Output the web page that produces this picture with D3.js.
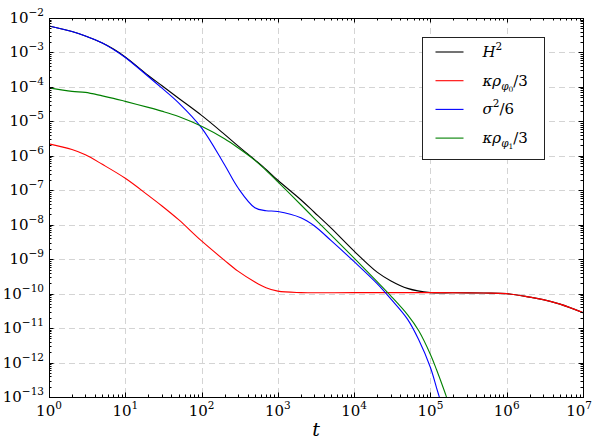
<!DOCTYPE html>
<html>
<head>
<meta charset="utf-8">
<script src="https://cdn.jsdelivr.net/npm/d3@7"></script>
<style>
  body { margin: 0; background: #fff; }
</style>
</head>
<body>
<div id="chart"></div>
<script>
// values
var tH2 = [1, 2, 3, 5, 7, 10, 20, 30, 50, 100, 200, 300, 500, 700, 1e3, 2e3, 3e3, 5e3, 1e4, 2e4, 3e4, 5e4, 1e5, 2e5, 5e5, 1e6, 2e6, 3e6, 5e6, 1e7];
var H2 = [5.86e-3, 4.06e-3, 3.01e-3, 1.88e-3, 1.26e-3, 7.41e-4, 2.15e-4, 1.10e-4, 4.70e-5, 1.49e-5, 4.20e-6, 1.95e-6, 7.66e-7, 4.06e-7, 1.95e-7, 5.31e-8, 2.30e-8, 7.92e-9, 1.71e-9, 4.20e-10, 2.38e-10, 1.42e-10, 1.07e-10, 1.06e-10, 1.04e-10, 1.0e-10, 7.92e-11, 6.70e-11, 4.96e-11, 2.81e-11];

var tRho0 = [1, 2, 3, 5, 10, 20, 30, 50, 100, 200, 300, 500, 700, 1e3, 2e3, 1e4, 1e5, 5e5, 1e6, 2e6, 3e6, 5e6, 1e7];
var rho0 = [2.23e-6, 1.52e-6, 1.07e-6, 5.67e-7, 2.23e-7, 7.11e-8, 3.56e-8, 1.40e-8, 3.38e-9, 9.23e-10, 4.49e-10, 2.18e-10, 1.49e-10, 1.18e-10, 1.07e-10, 1.07e-10, 1.07e-10, 1.04e-10, 1.0e-10, 7.92e-11, 6.70e-11, 4.96e-11, 2.81e-11];

var tSigma = [1, 2, 3, 5, 7, 10, 20, 30, 50, 100, 200, 300, 500, 700, 1e3, 2e3, 3e3, 5e3, 1e4, 2e4, 3e4, 5e4, 7e4, 1e5, 1.2e5, 1.4e5];
var sigma = [5.86e-3, 4.06e-3, 3.01e-3, 1.88e-3, 1.22e-3, 7.16e-4, 2.01e-4, 9.35e-5, 3.44e-5, 6.48e-6, 5.48e-7, 1.18e-7, 3.11e-8, 2.55e-8, 2.43e-8, 1.60e-8, 9.35e-9, 3.44e-9, 8.47e-10, 1.95e-10, 7.16e-11, 1.82e-11, 4.65e-12, 7.16e-13, 1.88e-13, 6.07e-14];

var tRho1 = [1, 2, 3, 5, 7, 10, 20, 30, 50, 100, 200, 300, 500, 700, 1e3, 2e3, 3e3, 5e3, 1e4, 2e4, 3e4, 5e4, 7e4, 1e5, 1.2e5, 1.5e5, 1.7e5];
var rho1 = [9.35e-5, 7.41e-5, 6.93e-5, 5.48e-5, 4.64e-5, 3.80e-5, 2.55e-5, 1.98e-5, 1.38e-5, 7.16e-6, 3.11e-6, 1.71e-6, 7.41e-7, 3.80e-7, 1.76e-7, 3.80e-8, 1.54e-8, 4.97e-9, 1.07e-9, 2.23e-10, 8.75e-11, 2.46e-11, 8.47e-12, 1.71e-12, 6.27e-13, 1.65e-13, 7.41e-14];

var xExps = [0, 1, 2, 3, 4, 5, 6, 7];
var yExps = [-13, -12, -11, -10, -9, -8, -7, -6, -5, -4, -3, -2];

var series = [
  { t: tH2, v: H2, color: '#000000' },
  { t: tRho0, v: rho0, color: '#ff0000' },
  { t: tSigma, v: sigma, color: '#0000ff' },
  { t: tRho1, v: rho1, color: '#008000' }
];

var serif = 'DejaVu Serif, serif';

var width = 593, height = 439;
var margin = { left: 49, right: 10, top: 18, bottom: 42 };
var pw = width - margin.left - margin.right;
var ph = height - margin.top - margin.bottom;

var x = d3.scaleLog().domain([1, 1e7]).range([0, pw]);
var y = d3.scaleLog().domain([1e-13, 1e-2]).range([ph, 0]);

var svg = d3.select('#chart')
  .append('svg')
  .attr('width', width)
  .attr('height', height);

svg.append('defs').append('clipPath')
  .attr('id', 'clip')
  .append('rect')
  .attr('width', pw)
  .attr('height', ph);

var g = svg.append('g')
  .attr('transform', 'translate(' + margin.left + ',' + margin.top + ')');

// dashed grid at every decade
g.selectAll('.gx')
  .data(xExps)
  .enter().append('line')
  .attr('x1', function (d) { return Math.round(x(Math.pow(10, d))) + 0.5; })
  .attr('x2', function (d) { return Math.round(x(Math.pow(10, d))) + 0.5; })
  .attr('y1', 0)
  .attr('y2', ph)
  .attr('stroke', '#d4d4d4')
  .attr('stroke-dasharray', '6,4');

g.selectAll('.gy')
  .data(yExps)
  .enter().append('line')
  .attr('y1', function (d) { return Math.round(y(Math.pow(10, d))) + 0.5; })
  .attr('y2', function (d) { return Math.round(y(Math.pow(10, d))) + 0.5; })
  .attr('x1', 0)
  .attr('x2', pw)
  .attr('stroke', '#d4d4d4')
  .attr('stroke-dasharray', '6,4');

var line = d3.line()
  .x(function (d) { return x(d[0]); })
  .y(function (d) { return y(d[1]); })
  .curve(d3.curveCatmullRom.alpha(0.5));

var lines = g.append('g').attr('clip-path', 'url(#clip)');
series.forEach(function (s) {
  lines.append('path')
    .datum(d3.zip(s.t, s.v))
    .attr('d', line)
    .attr('fill', 'none')
    .attr('stroke', s.color)
    .attr('stroke-width', 1.1);
});

// ticks inside on all four sides
function logTicks(lo, hi) {
  var out = [];
  for (var e = lo; e < hi; e++) {
    for (var m = 1; m < 10; m++) out.push({ v: m * Math.pow(10, e), major: m === 1 });
  }
  out.push({ v: Math.pow(10, hi), major: true });
  return out;
}
var xt = logTicks(0, 7), yt = logTicks(-13, -2);

var ticks = g.append('g').attr('stroke', '#000').attr('stroke-width', 1);
xt.forEach(function (d) {
  var px = Math.round(x(d.v)) + 0.5, len = d.major ? 4.5 : 2.5;
  ticks.append('line').attr('x1', px).attr('x2', px).attr('y1', ph).attr('y2', ph - len);
  ticks.append('line').attr('x1', px).attr('x2', px).attr('y1', 0).attr('y2', len);
});
yt.forEach(function (d) {
  var py = Math.round(y(d.v)) + 0.5, len = d.major ? 4.5 : 2.5;
  ticks.append('line').attr('y1', py).attr('y2', py).attr('x1', 0).attr('x2', len);
  ticks.append('line').attr('y1', py).attr('y2', py).attr('x1', pw).attr('x2', pw - len);
});

g.append('rect')
  .attr('x', 0.5)
  .attr('y', 0.5)
  .attr('width', pw)
  .attr('height', ph)
  .attr('fill', 'none')
  .attr('stroke', '#000')
  .attr('stroke-width', 1);

// tick labels 10^n
g.selectAll('.xl')
  .data(xExps)
  .enter().append('text')
  .attr('text-anchor', 'middle')
  .attr('font-family', serif)
  .attr('x', function (d) { return x(Math.pow(10, d)); })
  .attr('y', ph + 19)
  .style('font-size', '15px')
  .each(function (d) {
    var t = d3.select(this);
    t.append('tspan').text('10');
    t.append('tspan').attr('dy', -7).style('font-size', '10.5px').text(d);
    // keep the last label inside the window
    var w = this.getComputedTextLength();
    var cx = margin.left + x(Math.pow(10, d));
    if (cx + w / 2 > width - 1) t.attr('x', x(Math.pow(10, d)) - (cx + w / 2 - width + 1));
  });

g.selectAll('.yl')
  .data(yExps)
  .enter().append('text')
  .attr('text-anchor', 'end')
  .attr('font-family', serif)
  .attr('x', -5)
  .attr('y', function (d) { return y(Math.pow(10, d)) + 5; })
  .style('font-size', '15px')
  .each(function (d) {
    var t = d3.select(this);
    t.append('tspan').text('10');
    t.append('tspan').attr('dy', -7).style('font-size', '10.5px').text('\u2212' + Math.abs(d));
  });

svg.append('text')
  .attr('x', margin.left + pw / 2)
  .attr('y', 436)
  .attr('text-anchor', 'middle')
  .attr('font-family', serif)
  .style('font-size', '19px')
  .style('font-style', 'italic')
  .text('t');

// legend
var legendItems = [
  { color: '#000000', parts: [['H', 15, 0, 'italic'], ['2', 10.5, -7, 'normal']] },
  { color: '#ff0000', parts: [['\u03ba\u03c1', 15, 0, 'italic'], ['\u03c6', 10.5, 4, 'italic'], ['0', 7.5, 2, 'normal'], ['/3', 15, -6, 'normal']] },
  { color: '#0000ff', parts: [['\u03c3', 15, 0, 'italic'], ['2', 10.5, -7, 'normal'], ['/6', 15, 7, 'normal']] },
  { color: '#008000', parts: [['\u03ba\u03c1', 15, 0, 'italic'], ['\u03c6', 10.5, 4, 'italic'], ['1', 7.5, 2, 'normal'], ['/3', 15, -6, 'normal']] }
];

var lg = svg.append('g').attr('transform', 'translate(422.5,37.5)');
lg.append('rect')
  .attr('width', 122)
  .attr('height', 122)
  .attr('fill', '#fff')
  .attr('stroke', '#222')
  .attr('stroke-width', 1);

var row = lg.selectAll('.legend')
  .data(legendItems)
  .enter().append('g')
  .attr('class', 'legend')
  .attr('transform', function (d, i) { return 'translate(0,' + (14.5 + i * 28.7) + ')'; });

row.append('line')
  .attr('x1', 13).attr('x2', 41)
  .attr('stroke', function (d) { return d.color; })
  .attr('stroke-width', 1.1);

row.append('text')
  .attr('x', 60)
  .attr('y', 5)
  .attr('font-family', serif)
  .each(function (d) {
    var t = d3.select(this);
    d.parts.forEach(function (p) {
      t.append('tspan')
        .attr('dy', p[2])
        .style('font-size', p[1] + 'px')
        .style('font-style', p[3])
        .text(p[0]);
    });
  });
</script>
</body>
</html>
